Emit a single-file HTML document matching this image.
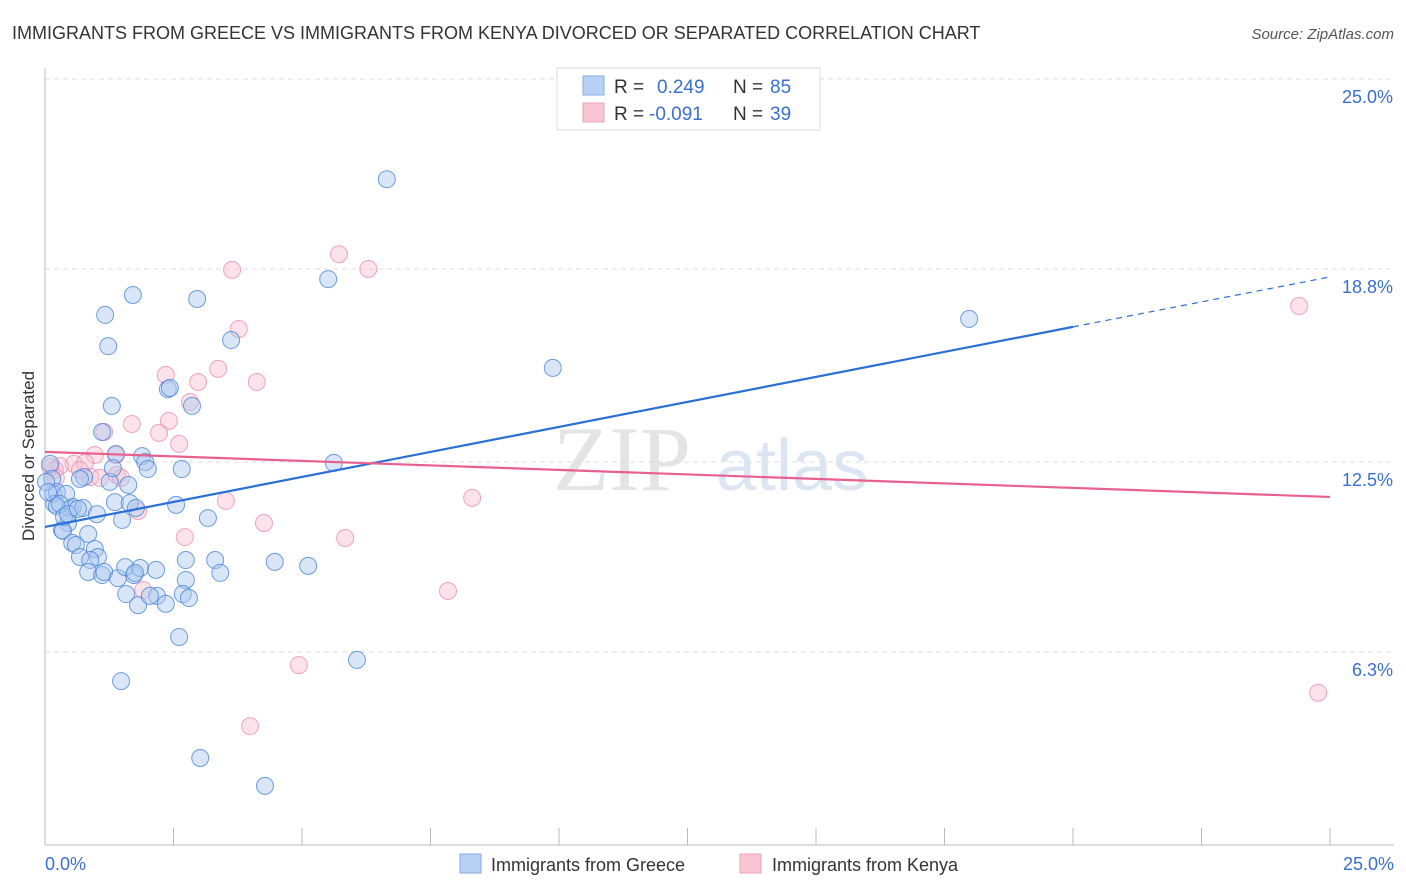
<!DOCTYPE html>
<html><head><meta charset="utf-8"><style>
body{margin:0;background:#fff;font-family:"Liberation Sans",sans-serif;}
svg{display:block}
</style></head><body>
<svg id="chart" width="1406" height="892" xmlns="http://www.w3.org/2000/svg">
<text x="12" y="39" font-size="18" fill="#333">IMMIGRANTS FROM GREECE VS IMMIGRANTS FROM KENYA DIVORCED OR SEPARATED CORRELATION CHART</text>
<text x="1394" y="39" font-size="15" fill="#555" font-style="italic" text-anchor="end">Source: ZipAtlas.com</text>
<text x="34" y="456" font-size="17" fill="#333" text-anchor="middle" transform="rotate(-90 34 456)">Divorced or Separated</text>
<g><text x="553" y="490" font-size="92" fill="#e4e4e4" font-family="Liberation Serif,serif">ZIP</text><text x="716" y="490" font-size="72" fill="#dce6f3">atlas</text></g>
<g id="grid"></g><g id="axes"></g><g id="marks"></g>
<g>
<rect x="557" y="68" width="263" height="62" fill="#fff" stroke="#ddd"/>
<rect x="583" y="76" width="21" height="19" fill="#b7d0f3" stroke="#85aee6"/>
<text x="614" y="93" font-size="19" fill="#333">R = </text><text x="657" y="93" font-size="19" fill="#3a6fd0">0.249</text>
<text x="733" y="93" font-size="19" fill="#333">N = </text><text x="770" y="93" font-size="19" fill="#3a6fd0">85</text>
<rect x="583" y="103" width="21" height="19" fill="#f8c6d5" stroke="#eea0b8"/>
<text x="614" y="120" font-size="19" fill="#333">R = </text><text x="649" y="120" font-size="19" fill="#3a6fd0">-0.091</text>
<text x="733" y="120" font-size="19" fill="#333">N = </text><text x="770" y="120" font-size="19" fill="#3a6fd0">39</text>
</g>
<g>
<rect x="460" y="854" width="21" height="19" fill="#b7d0f3" stroke="#85aee6"/>
<text x="491" y="871" font-size="18" fill="#333">Immigrants from Greece</text>
<rect x="740" y="854" width="21" height="19" fill="#f8c6d5" stroke="#eea0b8"/>
<text x="772" y="871" font-size="18" fill="#333">Immigrants from Kenya</text>
</g>
</svg>
<script>
const yTicks=[25,18.8,12.5,6.3];
const yTickLabels=["25.0%","18.8%","12.5%","6.3%"];
const xTickLabels=["0.0%","25.0%"];
const greeceX=[6.65,5.51,1.71,2.96,1.17,17.98,1.23,3.62,9.88,2.39,2.43,2.86,1.30,1.11,1.89,5.62,1.95,2.00,2.66,1.38,1.62,0.76,0.68,0.10,0.14,0.16,0.23,0.41,0.18,0.23,0.49,0.54,0.74,1.01,1.36,1.65,1.77,1.50,2.55,3.17,0.45,0.33,0.35,0.84,0.53,0.60,0.97,0.68,1.03,0.88,0.84,1.11,1.15,1.42,1.73,1.56,1.85,2.16,2.74,3.31,4.47,5.12,2.74,3.41,1.58,2.18,2.68,2.80,1.81,2.35,2.61,6.07,1.48,3.02,4.28,0.02,0.06,0.29,0.37,0.45,0.64,1.26,1.32,1.75,2.04];
const greeceY=[21.73,18.47,17.95,17.82,17.30,17.17,16.28,16.48,15.57,14.88,14.92,14.33,14.33,13.48,12.69,12.47,12.50,12.27,12.27,12.76,11.75,12.01,11.95,12.44,11.95,11.46,11.52,11.46,11.13,11.06,10.97,11.03,11.00,10.80,11.19,11.16,11.00,10.61,11.10,10.67,10.51,10.28,10.25,10.15,9.86,9.79,9.66,9.40,9.40,9.30,8.91,8.81,8.91,8.71,8.81,9.07,9.04,8.98,9.30,9.30,9.24,9.11,8.65,8.88,8.19,8.13,8.19,8.06,7.83,7.87,6.79,6.04,5.35,2.84,1.93,11.85,11.52,11.13,10.71,10.80,10.97,11.85,12.30,8.88,8.13];
const kenyaX=[24.40,5.72,6.29,3.64,3.77,2.35,3.37,2.98,4.12,2.82,2.41,1.69,1.15,2.22,2.61,1.38,0.97,0.56,0.29,0.19,0.10,0.78,0.88,1.07,1.40,1.48,0.68,1.81,3.52,8.31,4.26,5.84,2.72,1.91,7.84,4.94,3.99,24.77,0.21];
const kenyaY=[17.59,19.28,18.80,18.77,16.84,15.34,15.54,15.11,15.11,14.46,13.84,13.74,13.48,13.45,13.09,12.73,12.73,12.44,12.37,12.24,12.34,12.47,12.01,11.98,12.08,11.98,12.24,10.90,11.23,11.33,10.51,10.02,10.05,8.32,8.29,5.87,3.88,4.97,11.98];
const trendX=[0,20,25];
const greeceTrendY=[10.38,16.91,18.54];
const kenyaTrendY=[12.83,11.65,11.36];
const NS="http://www.w3.org/2000/svg";
const xs=v=>45+v/25*1285, ys=v=>845-v/25*766;
function mk(t,a,p){const e=document.createElementNS(NS,t);for(const k in a)e.setAttribute(k,a[k]);p.appendChild(e);return e;}
const grid=document.getElementById('grid'),axes=document.getElementById('axes'),marks=document.getElementById('marks');
yTicks.forEach((v,i)=>{
 const l=mk('line',{x1:45,x2:1394,y1:ys(v),y2:ys(v),stroke:'#ddd','stroke-dasharray':'5,4'},grid);
 
 
 const t=mk('text',{x:1393,y:ys(v)+24,'font-size':18,fill:'#3a6fd0','text-anchor':'end'},axes);
 t.textContent=yTickLabels[i];
 
 
});
const ax=mk('line',{x1:45,x2:45,y1:68,y2:845,stroke:'#bbb'},axes);


const bx=mk('line',{x1:45,x2:1394,y1:845,y2:845,stroke:'#bbb'},axes);


for(let i=0;i<=10;i++){const tk=mk('line',{x1:xs(i*2.5),x2:xs(i*2.5),y1:828,y2:845,stroke:'#bbb'},axes);
 
 }
[[0,'start',45],[25,'end',1394]].forEach((d,i)=>{const t=mk('text',{x:d[2],y:870,'font-size':18,fill:'#3a6fd0','text-anchor':d[1]},axes);t.textContent=xTickLabels[i];
 
 });
function dots(X,Y,fill,stroke,name){X.forEach((x,i)=>{const c=mk('circle',{cx:xs(x),cy:ys(Y[i]),r:8.5,fill:fill,'fill-opacity':0.45,stroke:stroke,'stroke-width':1,'stroke-opacity':0.8},marks);
 
 });}
dots(kenyaX,kenyaY,'#f8c0d0','#ec8fae','kenya-point');
dots(greeceX,greeceY,'#aac8f0','#4a86da','greece-point');
const b1=mk('line',{x1:xs(trendX[0]),y1:ys(greeceTrendY[0]),x2:xs(trendX[1]),y2:ys(greeceTrendY[1]),stroke:'#2a6fd6','stroke-width':2.2},marks);


const b2=mk('line',{x1:xs(trendX[1]),y1:ys(greeceTrendY[1]),x2:xs(trendX[2]),y2:ys(greeceTrendY[2]),stroke:'#2a6fd6','stroke-width':1.2,'stroke-dasharray':'6,5'},marks);


const k1=mk('line',{x1:xs(trendX[0]),y1:ys(kenyaTrendY[0]),x2:xs(trendX[2]),y2:ys(kenyaTrendY[2]),stroke:'#e8608e','stroke-width':2.2},marks);


</script>
</body></html>
